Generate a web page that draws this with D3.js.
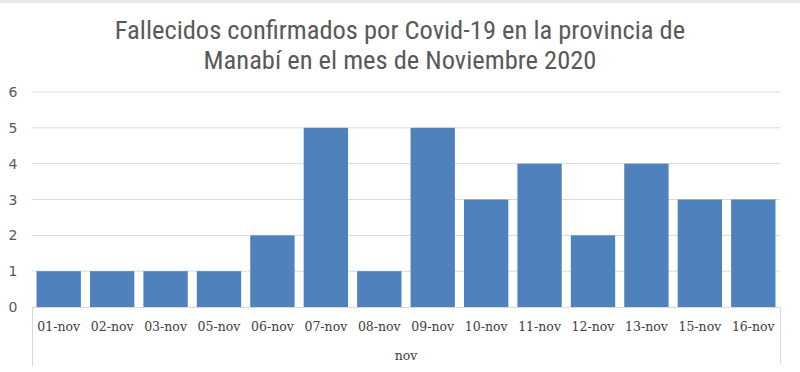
<!DOCTYPE html>
<html>
<head>
<meta charset="utf-8">
<script src="https://cdn.jsdelivr.net/npm/d3@7.9.0/dist/d3.min.js"></script>
<style>
  body { margin: 0; background: #fff; }
  svg { display: block; }
  .xlab { font-family: 'DejaVu Serif', 'Liberation Serif', serif; font-size: 12.5px; fill: #404040; }
  .ylab { font-family: 'DejaVu Sans', sans-serif; font-size: 14px; fill: #595959; }
  .title { font-family: 'Liberation Sans Narrow', 'Roboto Condensed', sans-serif; font-size: 26.5px; fill: #595959; }
</style>
</head>
<body>
<div id="chart"></div>
<script>
// DATA
const days = ['01-nov', '02-nov', '03-nov', '05-nov', '06-nov', '07-nov', '08-nov',
              '09-nov', '10-nov', '11-nov', '12-nov', '13-nov', '15-nov', '16-nov'];
const deaths = [1, 1, 1, 1, 2, 5, 1, 5, 3, 4, 2, 4, 3, 3];
const yTicks = [0, 1, 2, 3, 4, 5, 6];
const titleLines = ['Fallecidos confirmados por Covid-19 en la provincia de',
                    'Manabí en el mes de Noviembre 2020'];
const groupLabel = 'nov';

const width = 800;
const height = 372;

const svg = d3.select('#chart')
  .append('svg')
  .attr('width', width)
  .attr('height', height);

// top strip
svg.append('rect')
  .attr('x', 0).attr('y', 0)
  .attr('width', width).attr('height', 3)
  .attr('fill', '#e8e8e8');

const x = d3.scaleBand()
  .domain(days)
  .range([32, 780])
  .paddingInner(0.17)
  .paddingOuter(0.085);

const y = d3.scaleLinear()
  .domain([0, 6])
  .range([307, 92]);

// GRID
svg.append('g')
  .selectAll('line')
  .data(yTicks.filter(d => d > 0))
  .join('line')
  .attr('x1', 32)
  .attr('x2', 780)
  .attr('y1', d => y(d))
  .attr('y2', d => y(d))
  .attr('stroke', '#d9d9d9')
  .attr('stroke-width', 1);

// Y labels
svg.append('g')
  .selectAll('text')
  .data(yTicks)
  .join('text')
  .attr('class', 'ylab')
  .attr('x', 13)
  .attr('y', d => y(d) + 5)
  .attr('text-anchor', 'middle')
  .text(d => d);

// BARS
svg.append('g')
  .selectAll('rect')
  .data(days.map((d, i) => ({ day: d, value: deaths[i] })))
  .join('rect')
  .attr('x', d => x(d.day))
  .attr('y', d => y(d.value))
  .attr('width', x.bandwidth())
  .attr('height', d => y(0) - y(d.value))
  .attr('fill', '#4f81bd');

// X axis line + group box
const axisG = svg.append('g').attr('stroke', '#d9d9d9').attr('fill', 'none');
axisG.append('line').attr('x1', 32).attr('x2', 780).attr('y1', y(0) + 0.5).attr('y2', y(0) + 0.5);
axisG.append('line').attr('x1', 32.5).attr('x2', 32.5).attr('y1', y(0)).attr('y2', 366);
axisG.append('line').attr('x1', 780.5).attr('x2', 780.5).attr('y1', y(0)).attr('y2', 364);

// X labels
svg.append('g')
  .selectAll('text')
  .data(days)
  .join('text')
  .attr('class', 'xlab')
  .attr('x', d => x(d) + x.bandwidth() / 2)
  .attr('y', 331)
  .attr('text-anchor', 'middle')
  .text(d => d);

svg.append('text')
  .attr('class', 'xlab')
  .attr('x', 406)
  .attr('y', 360)
  .attr('text-anchor', 'middle')
  .text(groupLabel);

// TITLE
svg.append('g')
  .selectAll('text')
  .data(titleLines)
  .join('text')
  .attr('class', 'title')
  .attr('x', 400)
  .attr('y', (d, i) => 39 + i * 30)
  .attr('text-anchor', 'middle')
  .text(d => d);
</script>
</body>
</html>
